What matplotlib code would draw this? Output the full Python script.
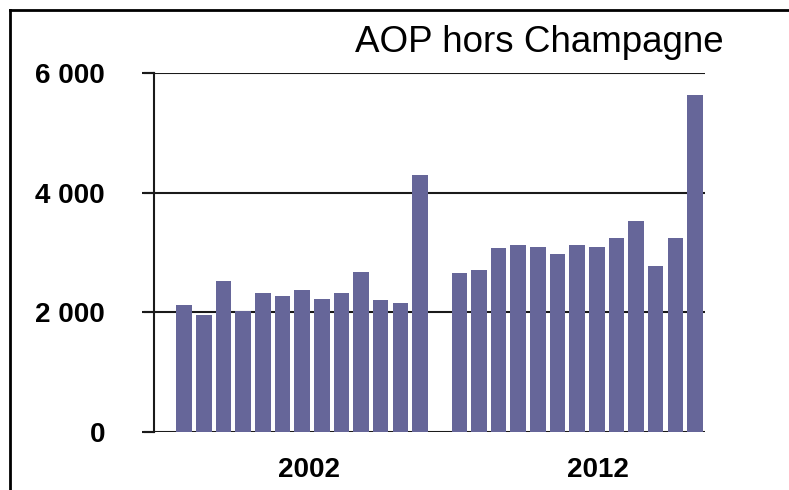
import numpy as np
import matplotlib
matplotlib.use("Agg")
from matplotlib import pyplot as plt
from matplotlib.lines import Line2D

# mesecne vrednosti + letni sestevek (dve obdobji)
vrednosti_2002 = [2130, 1950, 2530, 2020, 2320, 2280, 2370, 2230, 2330, 2670, 2200, 2150, 4300]
vrednosti_2012 = [2650, 2700, 3070, 3130, 3100, 2980, 3130, 3100, 3250, 3530, 2770, 3250, 5630]
leta = ["2002", "2012"]
yticks = [0, 2000, 4000, 6000]
ytick_labels = ["0", "2 000", "4 000", "6 000"]
naslov = "AOP hors Champagne"

plt.rcParams['font.family'] = ['Liberation Sans', 'DejaVu Sans']

barva = "#666699"
crta = "#1a1a1a"
fig = plt.figure(figsize=(7.89, 4.90), dpi=100)
ax = fig.add_axes([154/789, 58/490, (705-154)/789, (432-73)/490])

n = len(vrednosti_2002)
x1 = np.arange(n)
x2 = np.arange(n) + n + 1
ax.bar(x1, vrednosti_2002, width=0.79, color=barva, zorder=3)
ax.bar(x2, vrednosti_2012, width=0.79, color=barva, zorder=3)

xmin, xmax = -1.54, 26.51
ax.set_xlim(xmin, xmax)
ax.set_ylim(0, 6000)
ax.set_yticks(yticks)
ax.set_yticklabels(ytick_labels, fontsize=20, fontweight="bold")
ax.tick_params(axis="y", length=9, width=1.5, color=crta, pad=26.3)
ax.yaxis.grid(True, color=crta, linewidth=1.5, zorder=1)

# oznake let pod skupinami
ax.set_xticks([6.35, 21.07])
ax.set_xticklabels(leta, fontsize=20, fontweight="bold")
ax.tick_params(axis="x", length=0, pad=18)

for s in ["top", "right", "bottom"]:
    ax.spines[s].set_visible(False)
ax.spines["left"].set_color(crta)
ax.spines["left"].set_linewidth(1.5)

# crte mreze gredo malo levo od osi
for yt in yticks:
    ax.plot([xmin - 9/19.64, xmin], [yt, yt], color=crta, lw=1.5, clip_on=False, zorder=2)

fig.text(539/789, (490-52)/490, naslov, fontsize=26.5, ha="center", va="baseline")

# okvir
fig.add_artist(Line2D([10/789, 10/789], [0, 1 - 10.5/490], color="black", lw=2, transform=fig.transFigure))
fig.add_artist(Line2D([10/789, 1], [1 - 10.5/490, 1 - 10.5/490], color="black", lw=2, transform=fig.transFigure))

fig.savefig("out.png", dpi=100)
